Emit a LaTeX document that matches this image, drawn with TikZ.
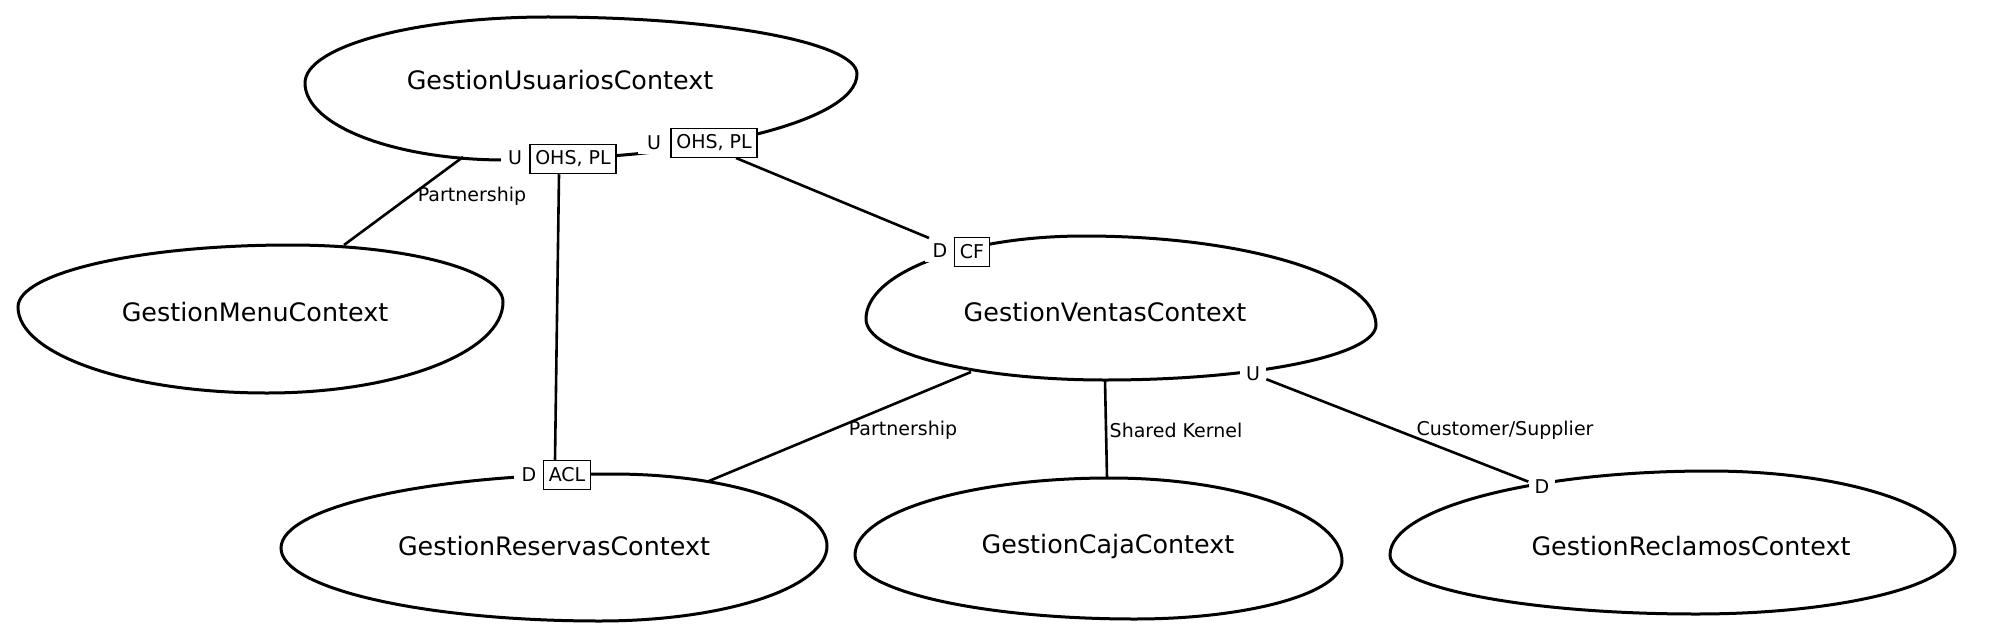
\documentclass[tikz,border=0pt]{standalone}
\usepackage{fontspec}
\setmainfont{DejaVu Sans}
\usetikzlibrary{calc}
\newcommand\ctxblob[4]{%
  \coordinate (bL) at #1; \coordinate (bT) at #2;
  \coordinate (bR) at #3; \coordinate (bB) at #4;
  \coordinate (kLT) at (bL|-bT); \coordinate (kRT) at (bR|-bT);
  \coordinate (kRB) at (bR|-bB); \coordinate (kLB) at (bL|-bB);
  \draw[blob] (bL) .. controls ($(bL)!0.5523!(kLT)$) and ($(bT)!0.5523!(kLT)$) .. (bT)
    .. controls ($(bT)!0.5523!(kRT)$) and ($(bR)!0.5523!(kRT)$) .. (bR)
    .. controls ($(bR)!0.5523!(kRB)$) and ($(bB)!0.5523!(kRB)$) .. (bB)
    .. controls ($(bB)!0.5523!(kLB)$) and ($(bL)!0.5523!(kLB)$) .. cycle;}
\begin{document}
\begin{tikzpicture}[x=0.5pt,y=-0.5pt,
  blob/.style={line width=1.5pt},
  conn/.style={line width=1.3pt},
  ctx/.style={font=\fontsize{12.7}{15}\selectfont, inner sep=0pt},
  lbl/.style={font=\fontsize{9.5}{11}\selectfont, fill=white, inner ysep=2pt},
  rel/.style={font=\fontsize{9.5}{11}\selectfont, inner sep=1pt},
  boxl/.style={font=\fontsize{9.5}{11}\selectfont, draw, fill=white, line width=0.75pt, inner xsep=2.6pt, inner ysep=0pt, minimum height=14.5pt}]
\useasboundingbox (0,0) rectangle (2000,631);
% blobs (left, top, right, bottom extremes)
\ctxblob{(305,83)}{(548,17)}{(857,74)}{(505,160)}
\ctxblob{(18,307)}{(290,245)}{(503,302)}{(267,393)}
\ctxblob{(866,319)}{(1084,236)}{(1376,325)}{(1105,380)}
\ctxblob{(281,548)}{(612,474)}{(827,546)}{(600,621)}
\ctxblob{(855,555)}{(1110,478)}{(1342,561)}{(1135,619)}
\ctxblob{(1390,555)}{(1709,471)}{(1955,551)}{(1696,614)}
% context names
\node[ctx] (usu) at (560,80) {GestionUsuariosContext};
\node[ctx] (men) at (255,312) {GestionMenuContext};
\node[ctx] (ven) at (1105,312) {GestionVentasContext};
\node[ctx] (res) at (554,546) {GestionReservasContext};
\node[ctx] (caj) at (1108,546) {GestionCajaContext};
\node[ctx] (rec) at (1691,546) {GestionReclamosContext};
% attachment points
\coordinate (usuA) at (463,157);
\coordinate (menA) at (344,245);
\coordinate (usuB) at (736,158);
\coordinate (venA) at (929,238);
\coordinate (venB) at (971,372);
\coordinate (resA) at (709,481);
\coordinate (venC) at (1105,380);
\coordinate (cajA) at (1107,478);
% connectors
\draw[conn] (usuA) -- (menA);
\draw[conn] (usuB) -- (venA);
\draw[conn] (venB) -- (resA);
\draw[conn] (venC) -- (cajA);
% U/D markers and pattern boxes
\node[lbl, inner xsep=3.5pt] (u1) at (515,158) {U};
\node[boxl] (b1) at (573,159) {OHS, PL};
\node[lbl, inner xsep=4.5pt] (u2) at (654,143) {U};
\node[boxl] (b2) at (714,143) {OHS, PL};
\node[lbl, inner xsep=4pt] (dacl) at (529,475) {D};
\node[boxl] (bacl) at (567,475) {ACL};
\node[lbl, inner xsep=4pt] (dcf) at (940,251) {D};
\node[boxl] (bcf) at (972,252) {CF};
\node[lbl, inner xsep=3pt] (uv) at (1253,374) {U};
\node[lbl, inner xsep=3pt] (dr) at (1542,487) {D};
\draw[conn] ([xshift=-7pt]b1.south) -- ([xshift=-6pt]bacl.north);
\draw[conn] (uv) -- (dr);
% relation labels
\node[rel] (p1) at (472,196) {Partnership};
\node[rel] (p2) at (903,430) {Partnership};
\node[rel] (sk) at (1176,430) {Shared Kernel};
\node[rel] (cs) at (1505,430) {Customer/Supplier};
\end{tikzpicture}
\end{document}
